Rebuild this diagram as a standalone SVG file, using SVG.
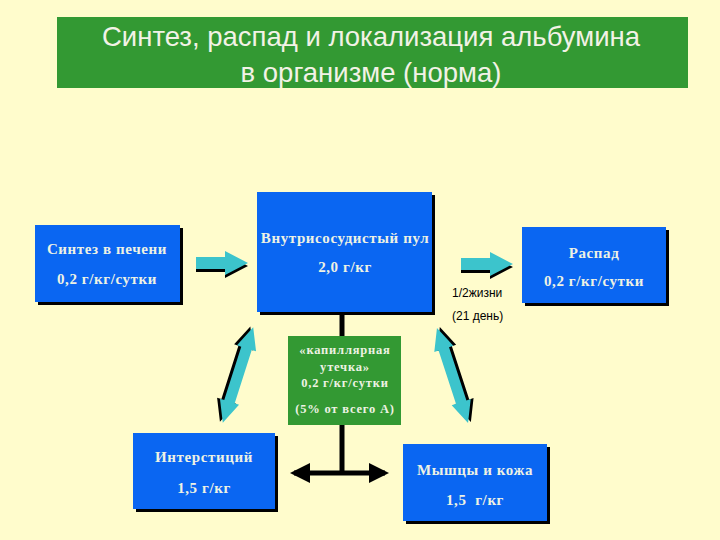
<svg xmlns="http://www.w3.org/2000/svg" width="720" height="540" viewBox="0 0 720 540">
<style>
.bg{fill:#FFFCCC}
.box{fill:#0A66F2}
.sh{fill:#000}
.t{font-family:"Liberation Serif","Times New Roman",serif;font-weight:bold;font-size:15px;letter-spacing:0.6px;fill:#EEF2E4;text-anchor:middle}
.ts{font-family:"Liberation Serif","Times New Roman",serif;font-weight:bold;font-size:12.5px;letter-spacing:0.8px;fill:#EEF2E4;text-anchor:middle}
.title{font-family:"Liberation Sans",Arial,sans-serif;font-size:27.5px;fill:#F2F2E6;text-anchor:middle}
.note{font-family:"Liberation Sans",Arial,sans-serif;font-size:12px;fill:#000}
.cy{fill:#3CC4CC}
</style>
<defs>
<polygon id="ar" points="0,-6 29,-6 29,-12 52,0 29,12 29,6 0,6"/>
<polygon id="dar" points="-50,0 -28,-10 -28,-5.5 28,-5.5 28,-10 50,0 28,10 28,5.5 -28,5.5 -28,10"/>
<marker id="bh" viewBox="0 0 10 10" refX="8" refY="5" markerWidth="4" markerHeight="4" orient="auto-start-reverse" markerUnits="strokeWidth">
<path d="M0,0 L10,5 L0,10 Z" fill="#000"/>
</marker>
</defs>
<rect class="bg" x="0" y="0" width="720" height="540"/>
<g id="title">
<rect x="57" y="17" width="631" height="71" fill="#339933"/>
<text class="title" x="371" y="46">Синтез, распад и локализация альбумина</text>
<text class="title" x="371" y="82">в организме (норма)</text>
</g>
<g id="connectors">
<line x1="342" y1="312" x2="342" y2="473" stroke="#000" stroke-width="5"/>
<line x1="342" y1="473" x2="294" y2="473" stroke="#000" stroke-width="5" marker-end="url(#bh)"/>
<line x1="342" y1="473" x2="385" y2="473" stroke="#000" stroke-width="5" marker-end="url(#bh)"/>
<g transform="translate(196,263)"><use href="#ar" class="sh" transform="translate(0,3)"/><use href="#ar" class="cy"/></g>
<g transform="translate(461,264)"><use href="#ar" class="sh" transform="translate(0,3)"/><use href="#ar" class="cy"/></g>
<g transform="translate(238,375) rotate(-72.3)"><use href="#dar" class="sh" transform="translate(0,-3)"/><use href="#dar" class="cy"/></g>
<g transform="translate(452.5,375.5) rotate(71.9)"><use href="#dar" class="sh" transform="translate(0,-3)"/><use href="#dar" class="cy"/></g>
</g>
<g id="synthesis">
<rect class="sh" x="38" y="228" width="145" height="77"/>
<rect class="box" x="35" y="225" width="145" height="77"/>
<text class="t" x="107" y="254">Синтез в печени</text>
<text class="t" x="107" y="284">0,2 г/кг/сутки</text>
</g>
<g id="pool">
<rect class="sh" x="260" y="195" width="175" height="120"/>
<rect class="box" x="257" y="192" width="175" height="120"/>
<text class="t" x="345" y="243">Внутрисосудистый пул</text>
<text class="t" x="345" y="272">2,0 г/кг</text>
</g>
<g id="decay">
<rect class="sh" x="525" y="230" width="144" height="76"/>
<rect class="box" x="522" y="227" width="144" height="76"/>
<text class="t" x="594" y="258">Распад</text>
<text class="t" x="594" y="286">0,2 г/кг/сутки</text>
</g>
<g id="halflife">
<text class="note" x="452" y="297">1/2жизни</text>
<text class="note" x="452" y="320">(21 день)</text>
</g>
<g id="leak">
<rect x="288" y="336" width="113" height="89" fill="#339933"/>
<text class="ts" x="345" y="354">«капиллярная</text>
<text class="ts" x="345" y="371">утечка»</text>
<text class="ts" x="345" y="387">0,2 г/кг/сутки</text>
<text class="ts" x="345" y="413">(5% от всего А)</text>
</g>
<g id="interstitium">
<rect class="sh" x="136" y="436" width="142" height="76"/>
<rect class="box" x="133" y="433" width="142" height="76"/>
<text class="t" x="204" y="462">Интерстиций</text>
<text class="t" x="204" y="493">1,5 г/кг</text>
</g>
<g id="muscles">
<rect class="sh" x="406" y="447" width="144" height="77"/>
<rect class="box" x="403" y="444" width="144" height="77"/>
<text class="t" x="475" y="475">Мышцы и кожа</text>
<text class="t" x="475" y="505" xml:space="preserve">1,5  г/кг</text>
</g>
</svg>
